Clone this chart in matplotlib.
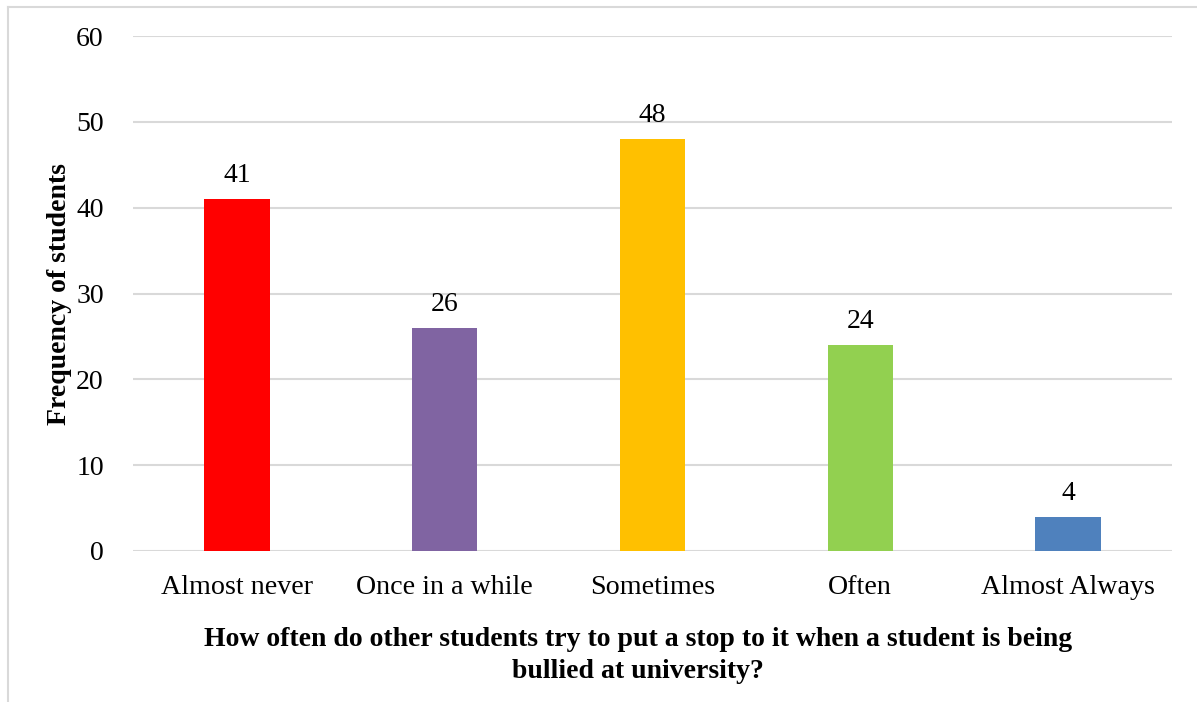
import matplotlib
matplotlib.use("Agg")
import matplotlib.pyplot as plt
from matplotlib.lines import Line2D

categories = ["Almost never", "Once in a while", "Sometimes", "Often", "Almost Always"]
frequencies = [41, 26, 48, 24, 4]
bar_colors = ["#FF0000", "#8064A2", "#FFC000", "#92D050", "#4F81BD"]
y_ticks = [0, 10, 20, 30, 40, 50, 60]

plt.rcParams["font.family"] = ["Liberation Serif", "DejaVu Serif"]

W, H = 1197, 702
fig = plt.figure(figsize=(W / 100, H / 100), dpi=100)
fig.patch.set_facecolor("white")

# frame around the chart area
border = "#D9D9D9"
fig.add_artist(Line2D([7.5 / W, 7.5 / W], [0, 1 - 7 / H], color=border, lw=1.5,
                      transform=fig.transFigure))
fig.add_artist(Line2D([7.5 / W, 1], [1 - 7 / H, 1 - 7 / H], color=border, lw=1.5,
                      transform=fig.transFigure))

ax = fig.add_axes([133 / W, 151 / H, (1172 - 133) / W, (551 - 36) / H])
x = range(len(categories))
bars = ax.bar(x, frequencies, width=0.315, color=bar_colors, zorder=3)

ax.set_xlim(-0.5, len(categories) - 0.5)
ax.set_ylim(0, 60)
ax.set_yticks(y_ticks)
ax.set_yticklabels([str(t) for t in y_ticks], fontsize=20)
ax.set_xticks(list(x))
ax.set_xticklabels(categories, fontsize=20.2)
ax.tick_params(axis="y", length=0, pad=21)
ax.tick_params(axis="x", length=0, pad=17)
ax.grid(axis="y", color=border, lw=1.5, zorder=0)
for s in ax.spines.values():
    s.set_visible(False)

for rect, v in zip(bars, frequencies):
    ax.annotate(str(v), (rect.get_x() + rect.get_width() / 2, v),
                xytext=(0, 8), textcoords="offset points",
                ha="center", va="bottom", fontsize=20)

fig.text(60 / W, 1 - 294 / H, "Frequency of students", rotation=90,
         ha="center", va="center", fontsize=20, fontweight="bold")
fig.text(638 / W, 1 - 655.5 / H,
         "How often do other students try to put a stop to it when a student is being\nbullied at university?",
         ha="center", va="center", fontsize=20, fontweight="bold", linespacing=1.4)

fig.savefig("out.png", dpi=100, facecolor="white")
